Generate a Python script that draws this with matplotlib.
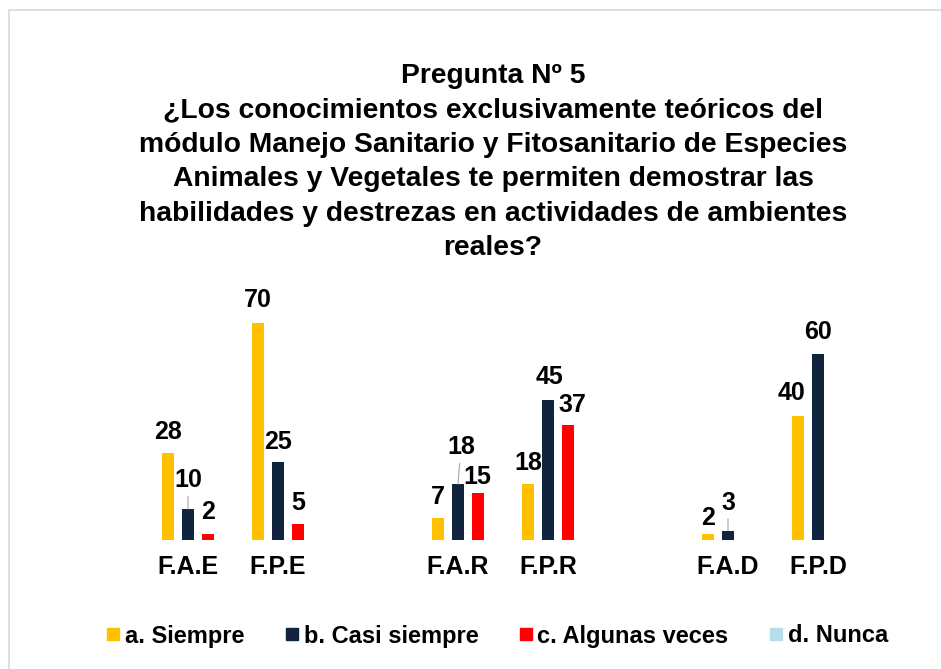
import numpy as np
import matplotlib
matplotlib.use("Agg")
import matplotlib.pyplot as plt
from matplotlib.lines import Line2D

plt.rcParams['font.family'] = ['Liberation Sans', 'DejaVu Sans']
plt.rcParams['font.weight'] = 'bold'

# data
categories = ['F.A.E', 'F.P.E', '', 'F.A.R', 'F.P.R', '', 'F.A.D', 'F.P.D']
series_names = ['a. Siempre', 'b. Casi siempre', 'c. Algunas veces', 'd. Nunca']
siempre = [28, 70, 0, 7, 18, 0, 2, 40]
casi_siempre = [10, 25, 0, 18, 45, 0, 3, 60]
algunas_veces = [2, 5, 0, 15, 37, 0, 0, 0]
nunca = [0, 0, 0, 0, 0, 0, 0, 0]
colors = ['#FFC000', '#10243E', '#FF0000', '#B7DEE8']

title = ('Pregunta Nº 5\n'
         '¿Los conocimientos exclusivamente teóricos del\n'
         'módulo Manejo Sanitario y Fitosanitario de Especies\n'
         'Animales y Vegetales te permiten demostrar las\n'
         'habilidades y destrezas en actividades de ambientes\n'
         'reales?')

# label nudges in pixels (dx, dy above bar top), leader line flag
nudges = {
    (0, 1): (0, 29, True),
    (0, 2): (0, 22, False),
    (1, 0): (0, 23, False),
    (1, 1): (0, 20, False),
    (3, 1): (3, 37, True),
    (3, 2): (-1, 16, False),
    (4, 1): (1, 23, False),
    (4, 2): (4, 20, False),
    (6, 0): (0, 16, False),
    (6, 1): (0, 28, True),
    (7, 0): (-7, 23, False),
    (7, 1): (0, 22, False),
}

fig = plt.figure(figsize=(9.41, 6.69), dpi=100)
ax = fig.add_axes([98 / 941, 129 / 669, 810 / 941, 248.3 / 669])

x = np.arange(len(categories))
width = 0.133
step = 0.222
data = [siempre, casi_siempre, algunas_veces, nunca]
offsets = [-step, 0, step, 2 * step]
for s, (vals, col) in enumerate(zip(data, colors)):
    if s == 3:
        continue
    ax.bar(x + offsets[s], vals, width=width, color=col, zorder=2)
    for i, v in enumerate(vals):
        if v == 0:
            continue
        dx, dy, lead = nudges.get((i, s), (0, 21, False))
        kw = {}
        if lead:
            kw['arrowprops'] = dict(arrowstyle='-', color='#A6A6A6', lw=0.8,
                                    shrinkA=1, shrinkB=0)
        ax.annotate(str(v), xy=(x[i] + offsets[s], v), xytext=(dx, dy),
                    textcoords='offset pixels', ha='center', va='center',
                    fontsize=18, fontweight='bold', color='#000000',
                    annotation_clip=False, **kw)

ax.set_xlim(-1, 8)
ax.set_ylim(0, 80)
ax.set_xticks(x)
ax.set_xticklabels(categories, fontsize=18, fontweight='bold')
ax.tick_params(axis='x', length=0, pad=11)
ax.set_yticks([])
for sp in ax.spines.values():
    sp.set_visible(False)

fig.text(493 / 941, 1 - 63 / 669, title, ha='center', va='top',
         fontsize=20.3, fontweight='bold', linespacing=1.42)

handles = [Line2D([], [], marker='s', linestyle='none', markersize=9,
                  markerfacecolor=c, markeredgecolor=c) for c in colors]
fig.legend(handles, series_names, loc='center', bbox_to_anchor=(497 / 941, 1 - 636 / 669),
           ncol=4, frameon=False, handlelength=0.6,
           handletextpad=0.2, columnspacing=1.7,
           prop={'weight': 'bold', 'size': 17})

# chart area border
fig.add_artist(Line2D([9 / 941, 9 / 941], [0, 1 - 10 / 669], color='#D9D9D9', lw=1.2,
                      transform=fig.transFigure))
fig.add_artist(Line2D([9 / 941, 1], [1 - 10 / 669, 1 - 10 / 669], color='#D9D9D9', lw=1.2,
                      transform=fig.transFigure))

fig.savefig('out.png', dpi=100, facecolor='white')
